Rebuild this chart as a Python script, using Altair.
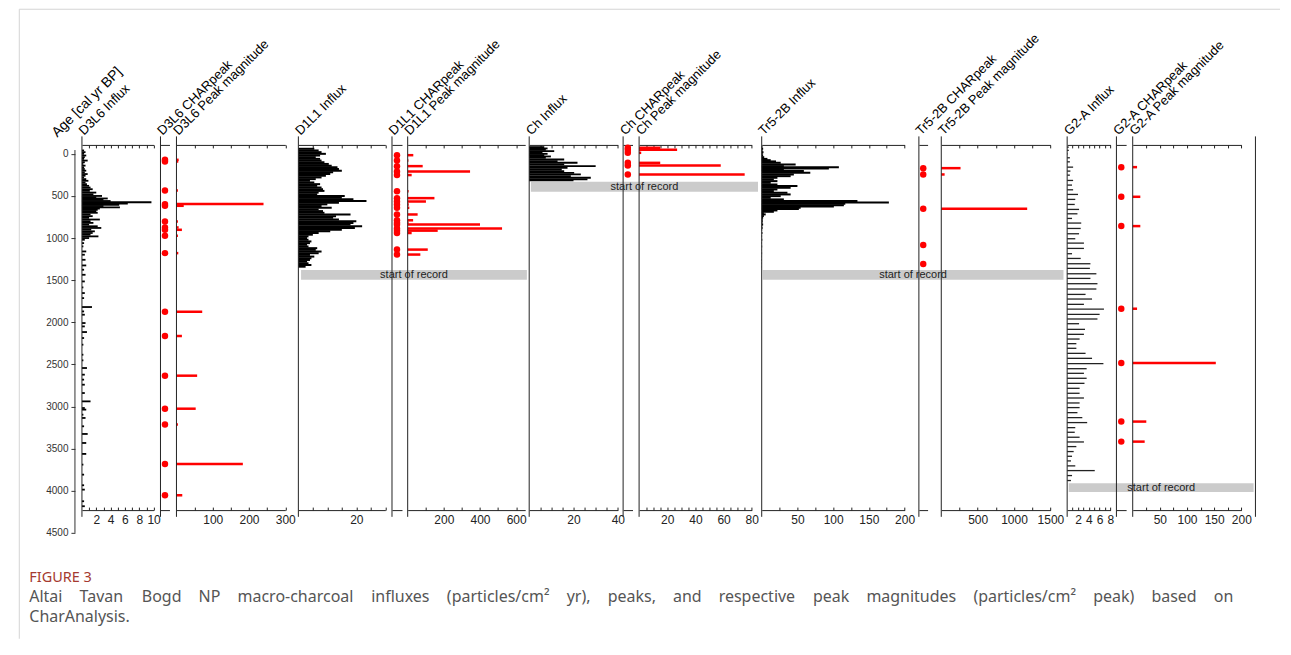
import altair as alt
import pandas as pd

FONT = "Liberation Sans"

# ---------------- data ----------------
AGE_TICKS = [0, 500, 1000, 1500, 2000, 2500, 3000, 3500, 4000, 4500]

# D3L6
D3_INF_AGE = [-40, -20, 0, 20, 40, 60, 80, 100, 120, 140, 160, 180, 200, 220, 240, 260, 280, 300, 320, 340,
              360, 380, 400, 420, 440, 460, 480, 500,
              515, 530, 545, 560, 575, 590, 605, 620, 635, 650, 665, 680,
              700, 720, 740, 760, 780, 800, 820, 840, 860, 880, 900, 920, 940, 960, 980, 1000, 1020,
              1060, 1099, 1159, 1198, 1258, 1325, 1376, 1436, 1515, 1586, 1653, 1713, 1819, 1871, 1910, 2009,
              2049, 2116, 2187, 2266, 2385, 2452, 2543, 2622, 2681, 2741, 2840, 2939, 3018, 3037, 3097, 3136,
              3235, 3326, 3433, 3563, 3690, 3809, 3935, 3987, 4125, 4184]
D3_INF_VAL = [0.3, 0.5, 0.3, 0.6, 0.4, 0.3, 0.8, 0.4, 0.2, 0.5, 0.3, 0.4, 0.6, 0.4, 0.8, 0.5, 0.3, 0.6, 0.9, 0.5,
              0.7, 1.0, 1.2, 1.5, 1.1, 2.0, 1.6, 2.8,
              2.0, 3.6, 3.0, 4.0, 9.7, 6.4, 5.2, 3.0, 5.3, 2.5, 2.2, 2.0,
              2.2, 1.2, 1.5, 1.0, 2.5, 1.2, 1.6, 1.0, 2.2, 2.7, 1.3, 1.8, 1.5, 1.2, 2.3, 1.0, 0.4,
              0.3, 0.2, 0.6, 0.4, 0.5, 0.6, 0.3, 0.5, 0.4, 0.2, 0.4, 0.3, 1.4, 0.3, 0.4, 0.5,
              0.4, 0.7, 0.3, 0.2, 0.2, 0.2, 0.7, 0.4, 0.3, 0.4, 0.4, 1.2, 0.4, 0.6, 0.2, 0.5,
              0.3, 0.8, 0.6, 0.6, 0.2, 0.3, 0.3, 0.4, 0.3, 0.4]
D3_PK_AGE = [71, 91, 435, 597, 617, 803, 874, 902, 973, 1179, 1875, 2163, 2634, 3026, 3215, 3682, 4054]
D3_PK_MAG = [6, 5, 4, 240, 20, 4, 6, 15, 4, 5, 71, 15, 57, 53, 4, 183, 16]

# D1L1
D1_INF_AGE = [-60, -40, -20, 0, 20, 40, 60, 80, 100, 120, 140, 160, 180, 200, 220, 240, 260, 280, 300, 320,
              340, 360, 380, 400, 420, 440, 460, 480, 500, 520, 540, 560, 580, 600, 620, 640, 660, 680, 700,
              720, 740, 760, 780, 800, 820, 840, 860, 880, 900, 920, 940, 960, 980, 1000, 1020, 1040, 1060,
              1080, 1100, 1120, 1140, 1160, 1180, 1200, 1220, 1240, 1260, 1280, 1300, 1320, 1340]
D1_INF_VAL = [5.5, 7.0, 8.0, 9.5, 7.5, 6.0, 7.5, 8.0, 9.0, 10.5, 11.5, 13.5, 14.0, 15.0, 12.0, 11.0, 9.5, 8.0,
              6.0, 4.0, 5.5, 7.5, 6.5, 8.0, 8.5, 9.0, 7.0, 6.5, 16.0, 15.0, 19.0, 23.5, 14.0, 10.0, 8.0, 11.5,
              7.0, 8.5, 9.0, 18.0, 13.0, 12.0, 14.0, 20.0, 19.0, 18.0, 22.0, 19.5, 15.0, 11.0, 7.0, 5.0, 3.5,
              3.0, 3.5, 4.5, 4.0, 3.0, 3.5, 6.5, 6.0, 8.0, 7.0, 4.0, 5.5, 4.5, 4.0, 3.0, 3.5, 4.5, 2.5]
D1_PK_AGE = [16, 79, 146, 210, 252, 443, 526, 566, 601, 641, 720, 789, 819, 840, 886, 912, 940, 1137, 1196]
D1_PK_MAG = [31, 4, 83, 345, 22, 5, 148, 101, 6, 9, 55, 30, 5, 400, 522, 166, 22, 111, 70]

# Ch
CH_INF_AGE = [-80, -64, -48, -32, -16, 0, 15, 31, 47, 67, 87, 106, 126, 146, 166, 186, 205, 225, 245, 265,
              284, 304, 316]
CH_INF_VAL = [6.8, 8.3, 7.5, 11.3, 6.0, 8.3, 6.8, 9.8, 7.5, 15.8, 12.8, 21.8, 15.8, 30.0, 17.3, 14.7, 15.8,
              20.3, 23.3, 18.8, 27.8, 26.3, 20.0]
CH_PK_AGE = [-72, -48, -12, 107, 138, 245]
CH_PK_MAG = [15, 27, 1.5, 15, 58, 75]

# Tr5-2B
TR_INF_AGE = [-80, -60, -40, -20, 0, 20, 40, 60, 75, 90, 106, 126, 146, 158, 174, 190, 205, 225, 245, 265,
              284, 304, 324, 344, 364, 383, 403, 423, 442, 462, 482, 502, 522, 541, 561, 577, 593, 609, 624,
              640, 656, 672, 688, 704, 719, 739, 759, 779, 800, 820, 840, 860, 880, 900, 940, 980, 1020,
              1060, 1100, 1140, 1180, 1220, 1260, 1300, 1340]
TR_INF_VAL = [1.0, 2.0, 1.2, 2.5, 1.5, 2.0, 3.5, 8.0, 12.6, 20.0, 26.6, 47.5, 31.0, 108.0, 94.0, 31.0, 59.0,
              68.0, 45.0, 40.5, 22.0, 17.0, 22.0, 12.6, 22.0, 50.0, 40.5, 22.0, 17.0, 36.0, 40.5, 26.6, 12.6,
              31.0, 134.0, 178.0, 117.0, 115.0, 101.0, 54.5, 52.0, 22.0, 17.0, 3.0, 5.6, 3.0, 2.0, 1.4, 1.5,
              1.0, 2.0, 0.8, 1.2, 0.6, 1.0, 0.5, 0.8, 0.4, 0.6, 0.3, 0.5, 0.3, 0.4, 0.3, 0.2]
TR_PK_AGE = [170, 245, 652, 1083, 1309]
TR_MAG_AGE = [170, 245, 652]
TR_MAG_VAL = [265, 46, 1181]

# G2-A
G2_INF_AGE = [-80, -40, 0, 47, 95, 158, 205, 253, 316, 371, 427, 482, 541, 601, 660, 712, 767, 822, 886, 949,
              1008, 1060, 1123, 1186, 1242, 1305, 1360, 1424, 1479, 1542, 1605, 1669, 1724, 1787, 1843, 1906,
              1961, 2017, 2084, 2143, 2199, 2254, 2309, 2369, 2428, 2491, 2551, 2606, 2665, 2725, 2784, 2843,
              2899, 2958, 3013, 3073, 3132, 3191, 3251, 3306, 3365, 3421, 3476, 3535, 3591, 3646, 3705, 3761,
              3820, 3879]
G2_INF_VAL = [0.3, 0.3, 0.1, 0.5, 0.5, 1.1, 0.6, 0.5, 1.1, 0.9, 1.1, 2.0, 1.5, 1.4, 2.2, 1.9, 0.9, 2.6, 2.5, 2.2,
              1.5, 3.1, 3.1, 0.9, 2.5, 4.3, 4.2, 5.4, 4.3, 5.6, 5.4, 3.4, 4.6, 3.1, 6.8, 6.0, 5.6, 2.2, 3.3, 3.1,
              2.3, 1.7, 1.7, 3.4, 4.6, 6.7, 3.6, 3.1, 3.6, 3.2, 2.3, 2.3, 3.1, 2.3, 2.3, 1.9, 2.8, 3.7, 1.5, 1.4,
              2.3, 3.1, 1.7, 1.2, 0.9, 0.7, 1.5, 5.1, 0.9, 0.7]
G2_PK_AGE = [158, 510, 858, 1839, 2483, 3179, 3417]
G2_PK_MAG = [8, 14, 14, 8, 153, 25, 22]

# "start of record" ages per site
REC_AGE = {"D1L1": (1380, 1495), "Ch": (332, 451), "Tr5-2B": (1380, 1495), "G2-A": (3910, 4014)}

CAPTION_HEAD = "FIGURE 3"
CAPTION_1 = ("Altai Tavan Bogd NP macro-charcoal influxes (particles/cm\u00b2 yr), peaks, and respective peak "
             "magnitudes (particles/cm\u00b2 peak) based on")
CAPTION_2 = "CharAnalysis."

# ---------------- layout ----------------
W, H = 1182, 397
Y_DOM = [-210, 4500]
TOP_AGE, BOT_AGE = -106, 4230
LINE_TOP, LINE_BOT = -207, 4310


def ypx(a):
    return (a - Y_DOM[0]) / (Y_DOM[1] - Y_DOM[0]) * H


TOP_PX, BOT_PX = ypx(TOP_AGE), ypx(BOT_AGE)

SITES = [
    dict(name="D3L6", inf=(D3_INF_AGE, D3_INF_VAL), pk=D3_PK_AGE, mag=(D3_PK_AGE, D3_PK_MAG),
         inf_ax=([0, 10], [7.0, 78.7], [1, 2, 3, 4, 5, 6, 7, 8, 9, 10], [2, 4, 6, 8, 10]),
         pk_rng=[85.6, 94.6],
         mag_ax=([0, 300], [101.6, 210.5], [50, 100, 150, 200, 250, 300], [100, 200, 300]),
         band=None, bar_w=1.8, bar_c="#000000"),
    dict(name="D1L1", inf=(D1_INF_AGE, D1_INF_VAL), pk=D1_PK_AGE, mag=(D1_PK_AGE, D1_PK_MAG),
         inf_ax=([0, 30], [223.6, 310.6], [5, 10, 15, 20, 25, 30], [20]),
         pk_rng=[317.3, 327.3],
         mag_ax=([0, 650], [333.0, 450.6], [100, 200, 300, 400, 500, 600], [200, 400, 600]),
         band=[226.3, 452.3], bar_w=2.0, bar_c="#000000"),
    dict(name="Ch", inf=(CH_INF_AGE, CH_INF_VAL), pk=CH_PK_AGE, mag=(CH_PK_AGE, CH_PK_MAG),
         inf_ax=([0, 40], [454.6, 543.3], [5, 10, 15, 20, 25, 30, 35, 40], [20, 40]),
         pk_rng=[548.6, 558.0],
         mag_ax=([0, 80], [564.6, 677.3], [5, 10, 15, 20, 25, 30, 35, 40, 45, 50, 55, 60, 65, 70, 75, 80],
                 [20, 40, 60, 80]),
         band=[456.3, 683.6], bar_w=1.8, bar_c="#000000"),
    dict(name="Tr5-2B", inf=(TR_INF_AGE, TR_INF_VAL), pk=TR_PK_AGE, mag=(TR_MAG_AGE, TR_MAG_VAL),
         inf_ax=([0, 200], [687.3, 830.3], [25, 50, 75, 100, 125, 150, 175, 200], [50, 100, 150, 200]),
         pk_rng=[844.6, 853.3],
         mag_ax=([0, 1500], [867.0, 976.2], [250, 500, 750, 1000, 1250, 1500], [500, 1000, 1500]),
         band=[688.3, 989.3], bar_w=2.0, bar_c="#000000"),
    dict(name="G2-A", inf=(G2_INF_AGE, G2_INF_VAL), pk=G2_PK_AGE, mag=(G2_PK_AGE, G2_PK_MAG),
         inf_ax=([0, 8], [993.0, 1036.3], [1, 2, 3, 4, 5, 6, 7, 8], [2, 4, 6, 8]),
         pk_rng=[1042.3, 1052.0],
         mag_ax=([0, 200], [1058.6, 1167.3], [25, 50, 75, 100, 125, 150, 175, 200], [50, 100, 150, 200]),
         band=[994.6, 1179.6], bar_w=1.3, bar_c="#222222"),
]

YS = alt.Scale(domain=Y_DOM, reverse=True, nice=False, zero=False)
YAX = alt.Axis(values=AGE_TICKS, domain=False, ticks=True, tickSize=4, tickColor="#333333",
               labelFontSize=10, labelColor="#333333", labelPadding=3, title=None, grid=False,
               labelFont=FONT, format="d")


def yenc(field):
    return alt.Y(f"{field}:Q", scale=YS, axis=YAX)


def xs(dom, rng):
    return alt.Scale(domain=dom, range=rng, nice=False, zero=False)


def ax_top(ticks):
    return alt.Axis(orient="bottom", offset=-(H - TOP_PX), values=ticks, labels=False,
                    ticks=len(ticks) > 0, tickSize=3, domain=True, title=None, grid=False,
                    domainColor="#222222", tickColor="#222222")


def ax_bot(ticks):
    return alt.Axis(orient="top", offset=-BOT_PX, values=ticks, labels=False,
                    ticks=len(ticks) > 0, tickSize=3, domain=True, title=None, grid=False,
                    domainColor="#222222", tickColor="#222222")


def ax_lab(labels):
    return alt.Axis(orient="bottom", offset=-(H - BOT_PX), values=labels, labels=True, ticks=False,
                    domain=False, title=None, grid=False, labelPadding=4, labelFontSize=12,
                    labelColor="#222222", labelFont=FONT, labelFlush=False, labelOverlap=False,
                    format="d")


TITLE_FS = 13
frame_df = pd.DataFrame({"x0": [0.0], "a1": [LINE_TOP], "a2": [LINE_BOT]})

band_layers, data_layers, frame_layers, text_layers = [], [], [], []

for s in SITES:
    name = s["name"]
    # ---- start-of-record band
    if s["band"] is not None:
        a1, a2 = REC_AGE[name]
        bdf = pd.DataFrame({"b0": [0.0], "b1": [1.0], "bm": [0.5], "a1": [a1], "a2": [a2],
                            "am": [(a1 + a2) / 2], "txt": ["start of record"]})
        bsc = xs([0, 1], s["band"])
        band_layers.append(
            alt.Chart(bdf).mark_rect(color="#cbcbcb").encode(
                x=alt.X("b0:Q", scale=bsc, axis=None), x2="b1:Q", y=yenc("a1"), y2="a2:Q"))
        text_layers.append(
            alt.Chart(bdf).mark_text(font=FONT, fontSize=11, color="#222222", baseline="middle").encode(
                x=alt.X("bm:Q", scale=bsc, axis=None), y=yenc("am"), text="txt:N"))

    # ---- influx panel
    dom, rng, ticks, labels = s["inf_ax"]
    sc = xs(dom, rng)
    idf = pd.DataFrame({"age": s["inf"][0], "v": s["inf"][1]})
    data_layers.append(
        alt.Chart(idf).mark_rule(color=s["bar_c"], strokeWidth=s["bar_w"]).encode(
            x=alt.X("v:Q", scale=sc, axis=ax_top(ticks)), x2=alt.X2Datum(0), y=yenc("age")))
    frame_layers.append(
        alt.Chart(frame_df).mark_rule(color="#222222", strokeWidth=1).encode(
            x=alt.X("x0:Q", scale=sc, axis=ax_bot(ticks)), y=yenc("a1"), y2="a2:Q"))
    tdf = pd.DataFrame({"x0": [0.0], "t": [f"{name} Influx"]})
    text_layers.append(
        alt.Chart(tdf).mark_text(font=FONT, fontSize=TITLE_FS, angle=315, align="left",
                                 baseline="alphabetic", dx=3, color="#000000").encode(
            x=alt.X("x0:Q", scale=sc, axis=ax_lab(labels)), y=alt.value(1.7), text="t:N"))

    # ---- CHARpeak panel
    sc = xs([0, 2], s["pk_rng"])
    pdf = pd.DataFrame({"age": s["pk"], "one": [1] * len(s["pk"])})
    data_layers.append(
        alt.Chart(pdf).mark_circle(color="#ff0000", size=42, opacity=1).encode(
            x=alt.X("one:Q", scale=sc, axis=ax_top([])), y=yenc("age")))
    frame_layers.append(
        alt.Chart(frame_df).mark_rule(color="#222222", strokeWidth=1).encode(
            x=alt.X("x0:Q", scale=sc, axis=ax_bot([])), y=yenc("a1"), y2="a2:Q"))
    tdf = pd.DataFrame({"x0": [0.0], "t": [f"{name} CHARpeak"]})
    text_layers.append(
        alt.Chart(tdf).mark_text(font=FONT, fontSize=TITLE_FS, angle=315, align="left",
                                 baseline="alphabetic", dx=3, color="#000000").encode(
            x=alt.X("x0:Q", scale=sc, axis=None), y=alt.value(1.7), text="t:N"))

    # ---- peak magnitude panel
    dom, rng, ticks, labels = s["mag_ax"]
    sc = xs(dom, rng)
    mdf = pd.DataFrame({"age": s["mag"][0], "m": s["mag"][1]})
    data_layers.append(
        alt.Chart(mdf).mark_rule(color="#ff0000", strokeWidth=2.5).encode(
            x=alt.X("m:Q", scale=sc, axis=ax_top(ticks)), x2=alt.X2Datum(0), y=yenc("age")))
    frame_layers.append(
        alt.Chart(frame_df).mark_rule(color="#222222", strokeWidth=1).encode(
            x=alt.X("x0:Q", scale=sc, axis=ax_bot(ticks)), y=yenc("a1"), y2="a2:Q"))
    tdf = pd.DataFrame({"x0": [0.0], "t": [f"{name} Peak magnitude"]})
    text_layers.append(
        alt.Chart(tdf).mark_text(font=FONT, fontSize=TITLE_FS, angle=315, align="left",
                                 baseline="alphabetic", dx=3, color="#000000").encode(
            x=alt.X("x0:Q", scale=sc, axis=ax_lab(labels)), y=alt.value(1.7), text="t:N"))
    if name == "G2-A":
        rdf = pd.DataFrame({"x0": [226.0], "a1": [LINE_TOP], "a2": [LINE_BOT]})
        frame_layers.append(
            alt.Chart(rdf).mark_rule(color="#222222", strokeWidth=1).encode(
                x=alt.X("x0:Q", scale=sc, axis=None), y=yenc("a1"), y2="a2:Q"))

# age axis line + title
age_df = pd.DataFrame({"a1": [-45], "a2": [4500]})
age_line = alt.Chart(age_df).mark_rule(color="#333333", strokeWidth=1).encode(
    x=alt.value(0), y=yenc("a1"), y2="a2:Q")
age_title = alt.Chart(pd.DataFrame({"t": ["Age [cal yr BP]"]})).mark_text(
    font=FONT, fontSize=14, angle=315, align="left", baseline="alphabetic", color="#000000").encode(
    x=alt.value(-17.7), y=alt.value(1.7), text="t:N")

# figure box
box_top = alt.Chart(pd.DataFrame({"k": [0]})).mark_rule(color="#d4d4d4", strokeWidth=1).encode(
    x=alt.value(-55.7), x2=alt.value(1206.0), y=alt.value(-127))
box_left = alt.Chart(pd.DataFrame({"k": [0]})).mark_rule(color="#d4d4d4", strokeWidth=1).encode(
    x=alt.value(-55.7), y=alt.value(-127), y2=alt.value(503))

# caption (first line justified across the figure width)
CAP_FS = 16
CAP_X0, CAP_X1 = -45.7, 1159.3
GLYPH_EM = {"a": 561, "b": 615, "c": 480, "d": 615, "e": 564, "f": 344, "g": 615, "h": 618, "i": 258,
            "k": 534, "l": 258, "m": 935, "n": 618, "o": 605, "p": 615, "r": 413, "s": 479, "t": 361,
            "u": 618, "v": 529, "x": 523, "y": 529, "A": 639, "B": 648, "C": 632, "N": 765, "P": 603,
            "T": 556, "(": 296, ")": 296, "/": 371, ",": 258, "-": 322, "\u00b2": 356, ".": 268}


def text_w(word):
    return sum(GLYPH_EM.get(ch, 560) for ch in word) * CAP_FS / 1000.0


words = CAPTION_1.split(" ")
widths = [text_w(w) for w in words]
gap = (CAP_X1 - CAP_X0 - sum(widths)) / (len(words) - 1)
pos, xcur = [], CAP_X0
for w_ in widths:
    pos.append(xcur)
    xcur += w_ + gap
cap1_df = pd.DataFrame({"w": words, "px": pos})
ident = alt.Scale(domain=[0, W], range=[0, W], nice=False, zero=False)
cap1 = alt.Chart(cap1_df).mark_text(font="Noto Sans", fontSize=CAP_FS, color="#555555", align="left",
                                    baseline="middle").encode(
    x=alt.X("px:Q", scale=ident, axis=None), y=alt.value(461), text="w:N")
cap_head = alt.Chart(pd.DataFrame({"t": [CAPTION_HEAD]})).mark_text(
    font="Noto Sans", fontSize=14.5, color="#a53a30", align="left", baseline="middle").encode(
    x=alt.value(-45.7), y=alt.value(442), text="t:N")
cap2 = alt.Chart(pd.DataFrame({"t": [CAPTION_2]})).mark_text(
    font="Noto Sans", fontSize=CAP_FS, color="#555555", align="left", baseline="middle").encode(
    x=alt.value(-45.7), y=alt.value(481), text="t:N")

chart = alt.layer(
    box_top, box_left, *band_layers, *data_layers, *frame_layers, age_line, age_title, *text_layers,
    cap_head, cap1, cap2
).resolve_scale(x="independent").resolve_axis(x="independent").properties(
    width=W, height=H, padding={"left": 10, "top": 0, "right": 2, "bottom": 2}
).configure_view(stroke="transparent").configure_axis(labelFont=FONT)

chart.save("out.html", embed_options={"renderer": "svg", "actions": False})
